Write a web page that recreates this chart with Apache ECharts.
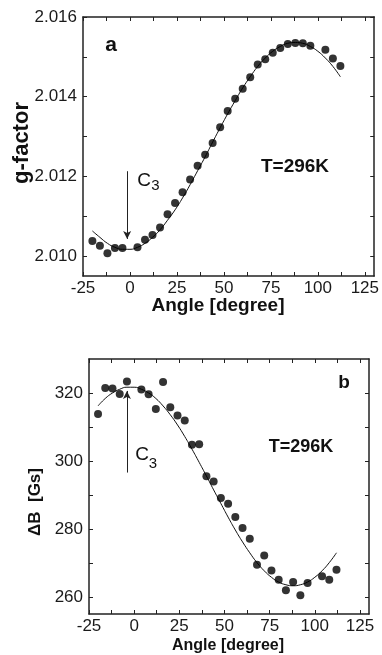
<!DOCTYPE html>
<html><head><meta charset="utf-8">
<script src="https://cdn.jsdelivr.net/npm/echarts@6/dist/echarts.min.js"></script>
<style>html,body{margin:0;padding:0;background:#fff}#c{width:382px;height:655px}</style>
</head><body><div id="c"></div>
<script>
// measured angles (degree)
const pointAngles = [-20,-16,-12,-8,-4,4,8,12,16,20,24,28,32,36,40,44,48,52,56,60,64,68,72,76,80,84,88,92,96,104,108,112];
// panel a: g-factor
const gValues = [2.01038,2.01026,2.01007,2.01020,2.01020,2.01022,2.01041,2.01053,2.01072,2.01105,2.01133,2.01160,2.01192,2.01227,2.01254,2.01284,2.01323,2.01364,2.01395,2.01420,2.01449,2.01481,2.01494,2.01510,2.01522,2.01532,2.01535,2.01534,2.01528,2.01518,2.01496,2.01477];
// panel b: line width ΔB (Gs)
const bValues = [313.8,321.5,321.3,319.7,323.4,321.0,319.6,315.3,323.2,315.8,313.4,311.9,304.8,304.9,295.5,294.0,289.1,287.4,283.5,280.3,277.1,269.5,272.2,267.8,265.1,262.0,264.4,260.5,264.1,266.1,265.1,268.0];
// fitted curves
const fitAngles = [-20,-16,-12,-8,-4,0,4,8,12,16,20,24,28,32,36,40,44,48,52,56,60,64,68,72,76,80,84,88,92,96,100,104,108,112];
const gFit = [2.01063,2.01047,2.01032,2.01022,2.01017,2.01017,2.01022,2.01032,2.01047,2.01066,2.01090,2.01116,2.01146,2.01179,2.01214,2.01249,2.01286,2.01322,2.01357,2.01390,2.01422,2.01450,2.01476,2.01497,2.01514,2.01526,2.01534,2.01536,2.01534,2.01526,2.01514,2.01497,2.01476,2.01450];
const bFit = [316.2,318.4,320.0,321.1,321.7,321.7,321.1,320.0,318.4,316.2,313.6,310.6,307.2,303.5,299.6,295.6,291.5,287.5,283.5,279.7,276.2,273.0,270.1,267.7,265.8,264.4,263.6,263.3,263.6,264.4,265.8,267.7,270.1,273.0];
// arrows (C3 direction)
const gArrow = [[-1.5, 2.01213], [-1.5, 2.01043]];
const bArrow = [[-4, 296.6], [-4, 320.6]];
// axes
const xRange = [-25, 130];
const xTicks = [-25,-12.5,0,12.5,25,37.5,50,62.5,75,87.5,100,112.5,125];
const xLabels = [-25,0,25,50,75,100,125];
const gRange = [2.0095, 2.016];
const gTicks = [2.010,2.011,2.012,2.013,2.014,2.015,2.016];
const gLabels = [2.010,2.012,2.014,2.016];
const bRange = [255, 330];
const bTicks = [260,270,280,290,300,310,320];
const bLabels = [260,280,300,320];

const FONT = '"Liberation Sans", Arial, Helvetica, sans-serif';
const AX = '#222';
const zip = (a, b) => a.map((v, i) => [v, b[i]]);

function xAx(grid, pos, show, ticks, labels) {
  return {
    type: 'value', gridIndex: grid, position: pos, min: xRange[0], max: xRange[1],
    axisLine: {show: true, onZero: false, lineStyle: {color: AX, width: 1.5}},
    axisTick: {show: true, inside: true, length: 4, customValues: ticks, lineStyle: {color: AX, width: 1}},
    axisLabel: {show: show, customValues: labels, margin: 4, color: '#1a1a1a', fontSize: 17, fontFamily: FONT},
    splitLine: {show: false}
  };
}
function yAx(grid, pos, show, range, ticks, labels, fmt) {
  return {
    type: 'value', gridIndex: grid, position: pos, min: range[0], max: range[1],
    axisLine: {show: true, onZero: false, lineStyle: {color: AX, width: 1.5}},
    axisTick: {show: true, inside: true, length: 4, customValues: ticks, lineStyle: {color: AX, width: 1}},
    axisLabel: {show: show, customValues: labels, margin: 6, color: '#1a1a1a', fontSize: 17, fontFamily: FONT, formatter: fmt},
    splitLine: {show: false}
  };
}
function arrowLine(pts) {
  return {
    silent: true, symbol: ['none', 'arrow'], symbolSize: [6, 8], animation: false,
    label: {show: false}, lineStyle: {color: '#222', width: 1, type: 'solid'},
    emphasis: {disabled: true},
    data: [[{coord: pts[0]}, {coord: pts[1]}]]
  };
}
function txt(x, y, text, size, bold, rot) {
  return {
    type: 'text', x: x, y: y, rotation: rot || 0,
    style: {text: text, fill: '#111', font: (bold ? 'bold ' : '') + size + 'px ' + FONT, textAlign: 'center', textVerticalAlign: 'middle'}
  };
}

const chart = echarts.init(document.getElementById('c'), null, {renderer: 'canvas'});
chart.setOption({
  animation: false,
  backgroundColor: '#fff',
  grid: [
    {left: 83, top: 17, width: 297, height: 259},
    {left: 89, top: 359, width: 280, height: 255}
  ],
  xAxis: [
    xAx(0, 'bottom', true, xTicks, xLabels),
    xAx(0, 'top', false, xTicks, xLabels),
    xAx(1, 'bottom', true, xTicks, xLabels),
    xAx(1, 'top', false, xTicks, xLabels)
  ],
  yAxis: [
    yAx(0, 'left', true, gRange, gTicks, gLabels, v => v.toFixed(3)),
    yAx(0, 'right', false, gRange, gTicks, gLabels, v => v.toFixed(3)),
    yAx(1, 'left', true, bRange, bTicks, bLabels, v => String(Math.round(v))),
    yAx(1, 'right', false, bRange, bTicks, bLabels, v => String(Math.round(v)))
  ],
  series: [
    {type: 'line', xAxisIndex: 0, yAxisIndex: 0, data: zip(fitAngles, gFit), smooth: true, symbol: 'none',
     lineStyle: {color: '#111', width: 1}, silent: true, z: 2},
    {type: 'scatter', xAxisIndex: 0, yAxisIndex: 0, data: zip(pointAngles, gValues), symbolSize: 8,
     itemStyle: {color: '#000'}, z: 3, markLine: arrowLine(gArrow)},
    {type: 'line', xAxisIndex: 2, yAxisIndex: 2, data: zip(fitAngles, bFit), smooth: true, symbol: 'none',
     lineStyle: {color: '#111', width: 1}, silent: true, z: 2},
    {type: 'scatter', xAxisIndex: 2, yAxisIndex: 2, data: zip(pointAngles, bValues), symbolSize: 8,
     itemStyle: {color: '#000'}, z: 3, markLine: arrowLine(bArrow)}
  ],
  graphic: [
    txt(111, 45, 'a', 21, true),
    txt(295, 167, 'T=296K', 19, true),
    txt(144, 181, 'C', 19, false),
    txt(155.5, 186, '3', 15, false),
    txt(22, 143, 'g-factor', 22, true, Math.PI / 2),
    txt(218, 306, 'Angle [degree]', 19, true),
    txt(344, 383, 'b', 19, true),
    txt(301, 447, 'T=296K', 18, true),
    txt(142, 455, 'C', 19, false),
    txt(153, 464, '3', 15, false),
    txt(35, 502, 'ΔB  [Gs]', 17, true, Math.PI / 2),
    txt(228, 646, 'Angle [degree]', 16, true)
  ]
});
</script>
</body></html>
